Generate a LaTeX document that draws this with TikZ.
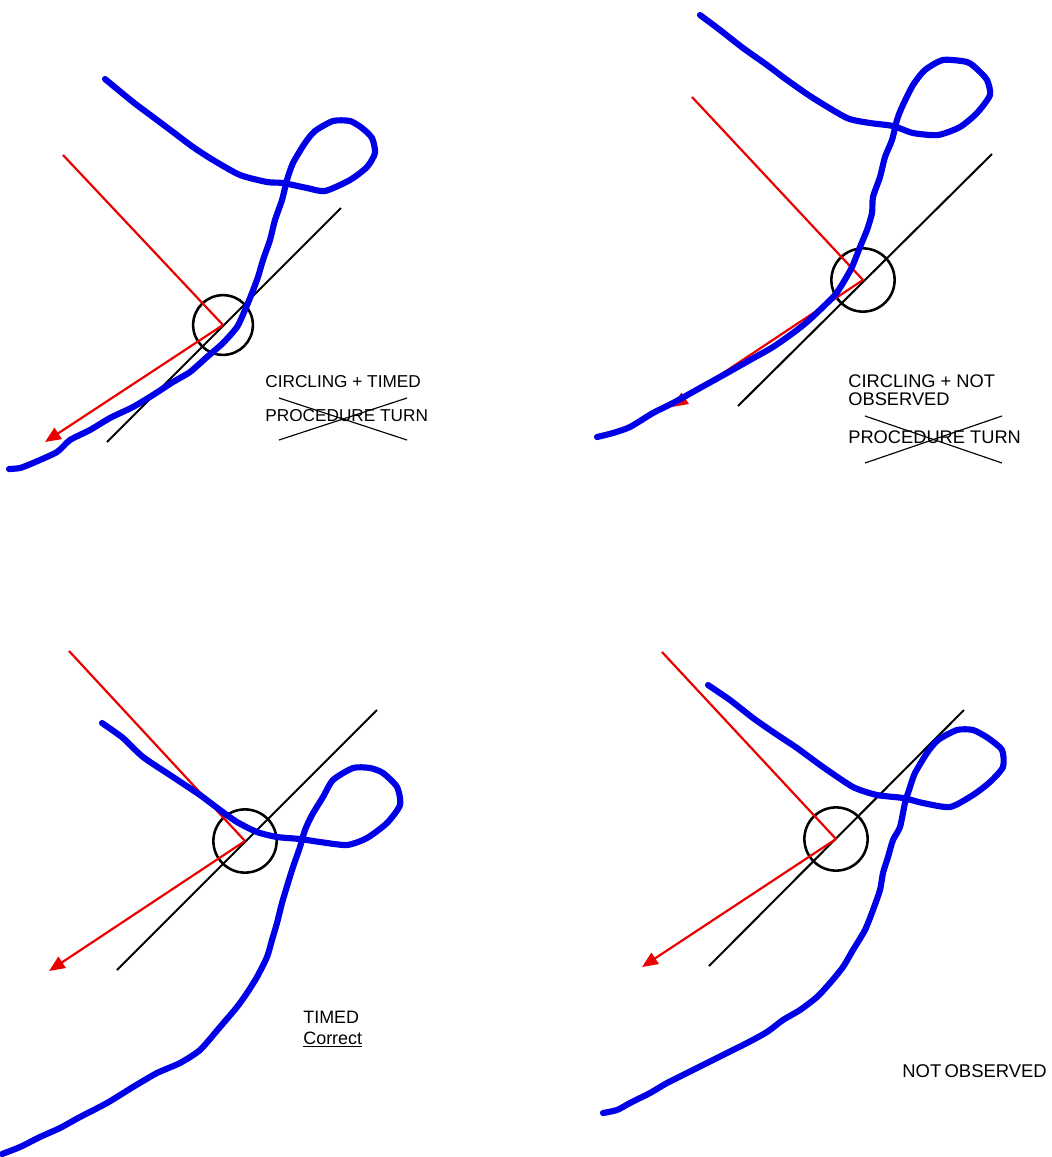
\documentclass[tikz,border=0pt]{standalone}
\usepackage{fontspec}
\setmainfont{Liberation Sans}
\usetikzlibrary{arrows.meta}
\usetikzlibrary{positioning}
\definecolor{trackblue}{RGB}{0,0,232}
\definecolor{bearingred}{RGB}{235,0,0}

\begin{document}
\begin{tikzpicture}[x=0.02cm, y=-0.02cm,
	track/.style={trackblue, line width=3.5pt, line cap=round, line join=round},
	radial/.style={bearingred, line width=1.25pt},
	inbound/.style={bearingred, line width=1.25pt, -{Triangle[length=9pt, width=7.5pt]}},
	course/.style={black, line width=1.15pt},
	fixring/.style={circle, draw, line width=1.45pt, minimum size=36pt, inner sep=0pt},
	remark/.style={anchor=base west, inner sep=0pt, font=\fontsize{9.8}{11}\selectfont},
	bigremark/.style={remark, font=\fontsize{10.4}{12}\selectfont},
	strike/.style={black, line width=0.65pt}]
\useasboundingbox (0,0) rectangle (1052,1157);

% circling + timed
\coordinate (c1) at (223,325);
\node(fix1)[fixring, minimum size=34pt] at (c1) {};
\coordinate (r1) at (63,155);
\coordinate (t1) at (45,442);
\coordinate (k1a) at (341,208);
\coordinate (k1b) at (107,442);
\draw[course] (k1a) -- (k1b);
\draw[radial] (r1) -- (c1);
\draw[inbound] (c1) -- (t1);
\draw[track] plot[smooth, tension=0.4] coordinates {(105,79) (133,102) (153,117) (173,132) (193,147) (213,160) (240,175) (267,182) (283,183) (307,188) (325,191) (350,180) (367,167) (375,153) (372,138) (362,128) (350,121) (333,121) (315,131) (305,143) (293,163) (287,180) (282,200) (275,220) (270,240) (263,260) (258,277) (252,293) (245,310) (237,327) (223,343) (207,357) (190,372) (173,382) (153,395) (133,407) (110,418) (90,430) (70,440) (57,452) (33,463) (20,468) (9,469)};
\node(lab1)[remark] at (265,387) {CIRCLING + TIMED};
\node(pt1)[remark] at (265,421) {PROCEDURE TURN};
\draw[strike] (279,398) -- (407,440);
\draw[strike] (279,440) -- (407,398);

% circling + not observed
\coordinate (c2) at (863,280);
\node(fix2)[fixring] at (c2) {};
\coordinate (r2) at (692,97);
\coordinate (t2) at (672,407);
\coordinate (k2a) at (992,154);
\coordinate (k2b) at (738,406);
\draw[course] (k2a) -- (k2b);
\draw[radial] (r2) -- (c2);
\draw[inbound] (c2) -- (t2);
\draw[track] plot[smooth, tension=0.4] coordinates {(700,15) (720,30) (743,48) (767,65) (787,80) (813,98) (847,118) (870,123) (893,126) (913,133) (938,135) (960,127) (977,113) (990,95) (987,80) (978,70) (967,62) (943,60) (925,70) (913,85) (902,107) (897,120) (892,140) (885,157) (880,177) (873,197) (872,213) (867,230) (860,247) (852,267) (843,283) (835,295) (823,307) (807,322) (793,333) (773,347) (750,360) (727,373) (700,388) (673,403) (653,413) (630,427) (613,433) (597,437)};
\node(lab2)[bigremark] at (848,387) {CIRCLING + NOT};
\node(lab2b)[bigremark] at (848,405) {OBSERVED};
\node(pt2)[bigremark] at (848,443) {PROCEDURE TURN};
\draw[strike] (865,416) -- (1002,463);
\draw[strike] (865,463) -- (1002,416);

% timed
\coordinate (c3) at (245,841);
\node(fix3)[fixring] at (c3) {};
\coordinate (r3) at (69,651);
\coordinate (t3) at (49,971);
\coordinate (k3a) at (377,710);
\coordinate (k3b) at (117,970);
\draw[course] (k3a) -- (k3b);
\draw[radial] (r3) -- (c3);
\draw[inbound] (c3) -- (t3);
\draw[track] plot[smooth, tension=0.4] coordinates {(102,723) (123,738) (143,757) (173,777) (200,795) (220,810) (237,822) (257,832) (277,837) (300,839) (320,842) (347,845) (367,838) (387,823) (400,805) (397,787) (383,773) (370,768) (353,768) (333,780) (323,797) (312,815) (305,830) (300,847) (293,867) (288,883) (282,903) (277,923) (272,940) (267,957) (257,977) (247,993) (237,1007) (220,1027) (200,1050) (180,1063) (157,1073) (133,1087) (107,1103) (80,1117) (60,1128) (40,1137) (20,1147) (2,1154)};
\node(lab3)[remark, font=\fontsize{10.2}{12}\selectfont] at (303,1023) {TIMED};
\node(ok3)[remark, font=\fontsize{10.2}{12}\selectfont] at (303,1044) {\underline{Correct}};

% not observed
\coordinate (c4) at (836,839);
\node(fix4)[fixring] at (c4) {};
\coordinate (r4) at (662,652);
\coordinate (t4) at (642,967);
\coordinate (k4a) at (964,710);
\coordinate (k4b) at (709,966);
\draw[course] (k4a) -- (k4b);
\draw[radial] (r4) -- (c4);
\draw[inbound] (c4) -- (t4);
\draw[track] plot[smooth, tension=0.4] coordinates {(708,685) (730,700) (753,718) (773,732) (797,748) (823,767) (853,787) (877,795) (903,798) (923,803) (950,807) (973,795) (990,782) (1003,767) (1002,750) (988,738) (973,730) (957,730) (938,740) (927,753) (915,773) (910,787) (905,803) (900,827) (893,840) (888,857) (883,873) (880,890) (873,910) (865,930) (853,950) (843,967) (830,983) (817,997) (800,1010) (783,1020) (767,1032) (747,1043) (727,1053) (707,1063) (687,1073) (667,1083) (650,1093) (630,1103) (617,1110) (603,1113)};
\node(lab4)[remark, font=\fontsize{10.5}{12}\selectfont] at (902,1077) {NOT\hspace{0.18em}OBSERVED};
\end{tikzpicture}
\end{document}
